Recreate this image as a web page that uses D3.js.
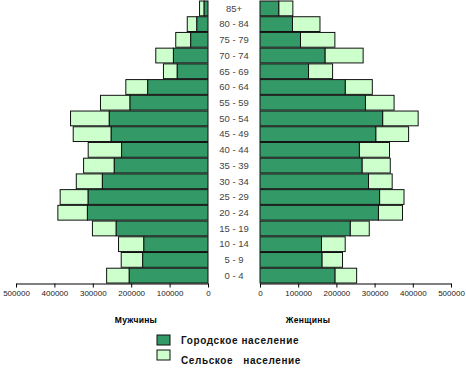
<!DOCTYPE html>
<html>
<head>
<meta charset="utf-8">
<script src="https://cdn.jsdelivr.net/npm/d3@7"></script>
<style>
  body { margin: 0; background: #fff; }
  svg { display: block; font-family: Arial, "Liberation Sans", sans-serif; }
</style>
</head>
<body>
<svg id="chart" width="466" height="369"></svg>
<script>
// age groups, bottom to top
const ages = ["0 - 4", "5 - 9", "10 - 14", "15 - 19", "20 - 24", "25 - 29", "30 - 34", "35 - 39",
    "40 - 44", "45 - 49", "50 - 54", "55 - 59", "60 - 64", "65 - 69", "70 - 74", "75 - 79", "80 - 84", "85+"];

// men
const menUrban = [205000, 170000, 167000, 239000, 314000, 312000, 275000, 244000,
    225000, 252000, 257000, 203000, 157000, 80000, 90000, 45000, 29000, 10000];
const menRural = [59000, 56000, 66000, 62000, 77000, 73000, 68000, 80000,
    87000, 99000, 101000, 77000, 57000, 36000, 46000, 39000, 25000, 12000];

// women
const womenUrban = [196000, 162000, 161000, 236000, 310000, 313000, 284000, 267000,
    260000, 303000, 321000, 276000, 223000, 127000, 170000, 106000, 85000, 49000];
const womenRural = [57000, 54000, 62000, 50000, 63000, 64000, 62000, 74000,
    79000, 86000, 93000, 75000, 71000, 63000, 100000, 90000, 72000, 37000];

const tickValues = [0, 100000, 200000, 300000, 400000, 500000];
const seriesNames = ["Городское население", "Сельское   население"];
const sideNames = ["Мужчины", "Женщины"];

const urbanColor = "#339966";
const ruralColor = "#ccffcc";

const svg = d3.select("#chart");

const y = d3.scaleBand()
    .domain(ages.slice().reverse())
    .range([1, 283])
    .paddingInner(0.06);

const xLeft = d3.scaleLinear().domain([0, 500000]).range([208, 16]);
const xRight = d3.scaleLinear().domain([0, 500000]).range([260, 451]);

const rows = ages.map((a, i) => ({
    age: a,
    mu: menUrban[i], mr: menRural[i],
    wu: womenUrban[i], wr: womenRural[i]
}));

// men bars
const gm = svg.append("g").attr("class", "men");
gm.selectAll("rect.rural").data(rows).enter()
    .append("rect")
    .attr("class", "rural")
    .attr("x", d => xLeft(d.mu + d.mr))
    .attr("y", d => y(d.age))
    .attr("width", d => xLeft(d.mu) - xLeft(d.mu + d.mr))
    .attr("height", y.bandwidth())
    .attr("fill", ruralColor)
    .attr("stroke", "#111")
    .attr("stroke-width", 1);
gm.selectAll("rect.urban").data(rows).enter()
    .append("rect")
    .attr("class", "urban")
    .attr("x", d => xLeft(d.mu))
    .attr("y", d => y(d.age))
    .attr("width", d => xLeft(0) - xLeft(d.mu))
    .attr("height", y.bandwidth())
    .attr("fill", urbanColor)
    .attr("stroke", "#111")
    .attr("stroke-width", 1);

// women bars
const gw = svg.append("g").attr("class", "women");
gw.selectAll("rect.rural").data(rows).enter()
    .append("rect")
    .attr("class", "rural")
    .attr("x", d => xRight(d.wu))
    .attr("y", d => y(d.age))
    .attr("width", d => xRight(d.wu + d.wr) - xRight(d.wu))
    .attr("height", y.bandwidth())
    .attr("fill", ruralColor)
    .attr("stroke", "#111")
    .attr("stroke-width", 1);
gw.selectAll("rect.urban").data(rows).enter()
    .append("rect")
    .attr("class", "urban")
    .attr("x", xRight(0))
    .attr("y", d => y(d.age))
    .attr("width", d => xRight(d.wu) - xRight(0))
    .attr("height", y.bandwidth())
    .attr("fill", urbanColor)
    .attr("stroke", "#111")
    .attr("stroke-width", 1);

// age labels
svg.append("g").selectAll("text").data(ages).enter()
    .append("text")
    .attr("x", 234)
    .attr("y", d => y(d) + y.bandwidth() / 2)
    .attr("dy", "0.35em")
    .attr("text-anchor", "middle")
    .attr("font-size", 9.5)
    .attr("fill", "#444")
    .text(d => d);

// axes
function styleAxis(g) {
    g.select(".domain").attr("stroke", "#000");
    g.selectAll(".tick line").attr("stroke", "#000");
    g.selectAll(".tick text").attr("font-size", 8).attr("fill", "#222")
        .attr("font-family", "Arial, sans-serif");
}
svg.append("g")
    .attr("transform", "translate(0,283.5)")
    .call(d3.axisBottom(xLeft).tickValues(tickValues).tickFormat(d => d).tickSize(4).tickSizeOuter(0))
    .call(styleAxis);
svg.append("g")
    .attr("transform", "translate(0,283.5)")
    .call(d3.axisBottom(xRight).tickValues(tickValues).tickFormat(d => d).tickSize(4).tickSizeOuter(0))
    .call(styleAxis);

// side titles
svg.append("text").attr("x", 136).attr("y", 323).attr("text-anchor", "middle")
    .attr("font-size", 8.5).attr("font-weight", "bold").attr("letter-spacing", 0.3).text(sideNames[0]);
svg.append("text").attr("x", 308).attr("y", 323).attr("text-anchor", "middle")
    .attr("font-size", 8.5).attr("font-weight", "bold").attr("letter-spacing", 0.3).text(sideNames[1]);

// legend
const legend = svg.append("g");
[urbanColor, ruralColor].forEach((c, i) => {
    legend.append("rect")
        .attr("x", 157).attr("y", 335 + i * 15)
        .attr("width", 13).attr("height", 10)
        .attr("fill", c).attr("stroke", "#111");
    legend.append("text")
        .attr("x", 181).attr("y", 344 + i * 20)
        .attr("font-size", 10).attr("font-weight", "bold").attr("fill", "#111")
        .attr("letter-spacing", 0.6)
        .style("white-space", "pre")
        .text(seriesNames[i]);
});
</script>
</body>
</html>
